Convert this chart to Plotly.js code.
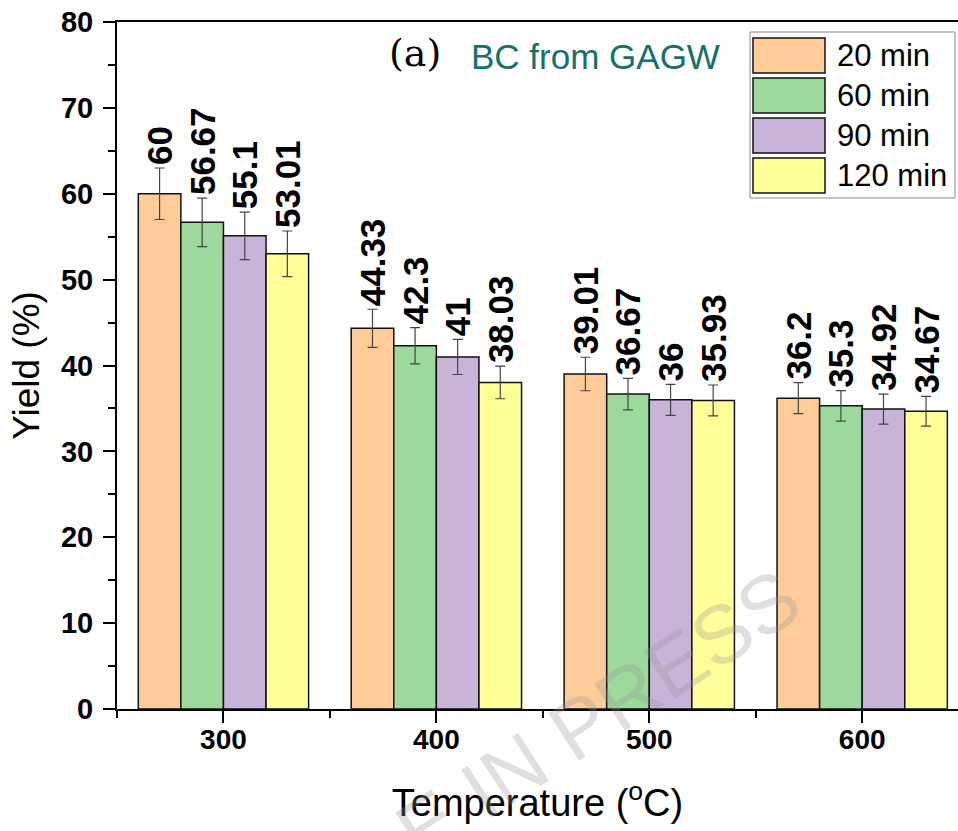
<!DOCTYPE html>
<html>
<head>
<meta charset="utf-8">
<script src="https://cdn.plot.ly/plotly-3.0.1.min.js"></script>
<style>html,body{margin:0;padding:0;background:#fff;}#chart{width:958px;height:831px;}</style>
</head>
<body>
<div id="chart"></div>
<script>
// ---- data ----
var temperatures = [300, 400, 500, 600];
var seriesNames = ['20 min', '60 min', '90 min', '120 min'];
var yield20 = [60, 44.33, 39.01, 36.2];
var yield60 = [56.67, 42.3, 36.67, 35.3];
var yield90 = [55.1, 41, 36, 34.92];
var yield120 = [53.01, 38.03, 35.93, 34.67];
var err20 = [3.0, 2.22, 1.95, 1.81];
var err60 = [2.83, 2.12, 1.83, 1.77];
var err90 = [2.76, 2.05, 1.80, 1.75];
var err120 = [2.65, 1.90, 1.80, 1.73];
var yTicks = [0, 10, 20, 30, 40, 50, 60, 70, 80];

// ---- styles ----
var colors = ['#FFCC99', '#9DD89C', '#C7B4D8', '#FFFF99'];
var SANS = 'Liberation Sans, Arial, sans-serif';
var allY = [yield20, yield60, yield90, yield120];
var allE = [err20, err60, err90, err120];

var traces = [];
allY.forEach(function (ys, i) {
  traces.push({
    type: 'bar', name: seriesNames[i], x: temperatures, y: ys,
    offsetgroup: String(i),
    marker: {color: colors[i], line: {color: '#111', width: 1.5}},
    error_y: {type: 'data', array: allE[i], visible: true, color: '#444', thickness: 1.2, width: 5},
    showlegend: false, hoverinfo: 'x+y'
  });
});
// value labels placed just above each error bar (same slot via offsetgroup)
allY.forEach(function (ys, i) {
  traces.push({
    type: 'bar', x: temperatures,
    y: ys.map(function (v, k) { return v + allE[i][k]; }),
    offsetgroup: String(i),
    text: ys.map(function (v) { return String(v); }),
    textposition: 'outside', textangle: -90, constraintext: 'none', cliponaxis: false,
    textfont: {family: SANS, size: 35, color: '#000', weight: 'bold'},
    marker: {color: 'rgba(0,0,0,0)', line: {width: 0}},
    showlegend: false, hoverinfo: 'skip'
  });
});

// pixel -> paper helpers for decorations
var L = 117, R = 958, T = 22, B = 709;
function px(x) { return (x - L) / (R - L); }
function py(y) { return (B - y) / (B - T); }

var shapes = [{
  type: 'rect', xref: 'paper', yref: 'paper',
  x0: px(750), x1: px(955), y0: py(198), y1: py(32),
  line: {color: '#888', width: 1}, fillcolor: '#fff', layer: 'above'
}];
var annotations = [];
seriesNames.forEach(function (nm, i) {
  var top = 38 + i * 40;
  shapes.push({
    type: 'rect', xref: 'paper', yref: 'paper',
    x0: px(753), x1: px(825), y0: py(top + 35), y1: py(top),
    line: {color: '#111', width: 1.5}, fillcolor: colors[i], layer: 'above'
  });
  annotations.push({
    xref: 'paper', yref: 'paper', x: px(835), y: py(top + 17.5),
    xanchor: 'left', yanchor: 'middle', showarrow: false, text: nm,
    font: {family: SANS, size: 31, color: '#000'}
  });
});
annotations.push({
  xref: 'paper', yref: 'paper', x: px(415), y: py(53), xanchor: 'center', yanchor: 'middle',
  showarrow: false, text: '(a)', font: {family: 'DejaVu Serif, serif', size: 38, color: '#000'}
});
annotations.push({
  xref: 'paper', yref: 'paper', x: px(469), y: py(56), xanchor: 'left', yanchor: 'middle',
  showarrow: false, text: 'BC from GAGW', font: {family: SANS, size: 35, color: '#17706B'}
});
// watermark
annotations.push({
  xref: 'paper', yref: 'paper', x: px(476), y: py(793), xanchor: 'center', yanchor: 'middle',
  showarrow: false, text: 'ARTICLE IN PRESS', textangle: -33,
  font: {family: SANS, size: 82, color: 'rgba(150,150,150,0.3)'}
});

var layout = {
  width: 958, height: 831,
  margin: {l: L, r: 958 - R, t: T, b: 831 - B, pad: 0},
  paper_bgcolor: '#fff', plot_bgcolor: '#fff',
  barmode: 'group', bargap: 0.2, bargroupgap: 0,
  showlegend: false,
  xaxis: {
    range: [250, 645], tickvals: temperatures, ticktext: temperatures.map(String),
    ticks: 'outside', ticklen: 12, tickwidth: 2, tickcolor: '#000',
    minor: {dtick: 50, tick0: 250, ticks: 'outside', ticklen: 7, tickwidth: 2, tickcolor: '#000', showgrid: false},
    showline: true, linewidth: 2, linecolor: '#000', mirror: true,
    showgrid: false, zeroline: false, ticklabelstandoff: -8,
    tickfont: {family: SANS, size: 28, color: '#000', weight: 'bold'},
    title: {text: 'Temperature (<sup>o</sup>C)', font: {family: SANS, size: 38, color: '#000'}, standoff: 36}
  },
  yaxis: {
    range: [0, 80], tickvals: yTicks, ticktext: yTicks.map(String),
    ticks: 'outside', ticklen: 12, tickwidth: 2, tickcolor: '#000',
    minor: {dtick: 5, tick0: 0, ticks: 'outside', ticklen: 7, tickwidth: 2, tickcolor: '#000', showgrid: false},
    showline: true, linewidth: 2, linecolor: '#000', mirror: false,
    showgrid: false, zeroline: false, ticklabelstandoff: 4,
    tickfont: {family: SANS, size: 29, color: '#000', weight: 'bold'},
    title: {text: 'Yield (%)', font: {family: SANS, size: 37, color: '#000'}, standoff: 10}
  },
  shapes: shapes,
  annotations: annotations
};

Plotly.newPlot('chart', traces, layout, {displayModeBar: false, staticPlot: true});
</script>
</body>
</html>
